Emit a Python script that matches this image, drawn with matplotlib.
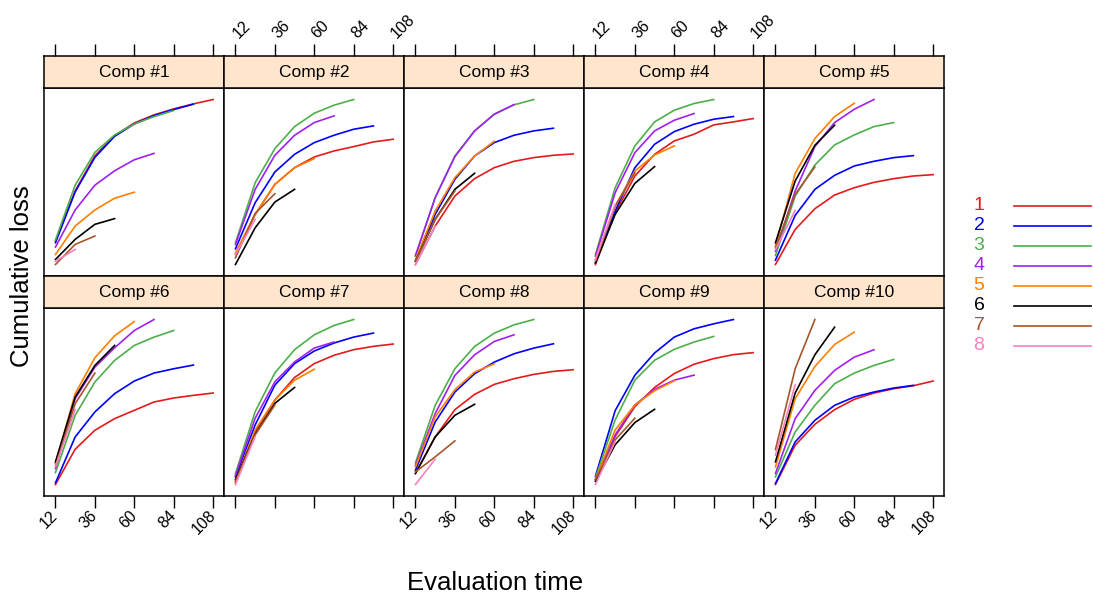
import numpy as np
import matplotlib
matplotlib.use('Agg')
import matplotlib.pyplot as plt
from matplotlib.lines import Line2D

plt.rcParams['font.family'] = ['Liberation Sans', 'DejaVu Sans']

# evaluation times (months)
eval_time = [12, 24, 36, 48, 60, 72, 84, 96, 108]
years = ['1', '2', '3', '4', '5', '6', '7', '8']
colors = ['#E41A1C', '#0000FF', '#4DAF4A', '#A020F0', '#FF7F00', '#000000', '#A65628', '#F781BF']
tick_vals = [12, 36, 60, 84, 108]

# cumulative loss per accident year (relative scale)
comp1 = [[135, 285, 390, 450, 488, 512, 530, 545, 558],
         [130, 282, 385, 448, 485, 510, 528, 544],
         [138, 302, 400, 452, 485, 507, 525],
         [117, 228, 302, 345, 378, 397],
         [95, 180, 228, 263, 281],
         [80, 140, 185, 202],
         [65, 125, 150],
         [75, 110]]
comp2 = [[95, 215, 305, 355, 387, 405, 418, 432, 440],
         [112, 250, 342, 395, 430, 452, 470, 480],
         [130, 310, 412, 478, 518, 542, 559],
         [125, 290, 392, 452, 490, 510],
         [100, 215, 305, 355, 382],
         [65, 175, 252, 290],
         [85, 218, 277],
         [95, 200]]
comp3 = [[65, 180, 270, 322, 355, 374, 385, 392, 396],
         [75, 215, 320, 390, 430, 452, 465, 473],
         [90, 265, 390, 465, 515, 543, 559],
         [92, 265, 388, 465, 515, 544],
         [80, 225, 325, 390, 434],
         [75, 200, 290, 338],
         [75, 200, 285],
         [65, 180]]
comp4 = [[65, 220, 330, 395, 435, 455, 483, 492, 502],
         [70, 225, 355, 425, 463, 485, 500, 508],
         [95, 295, 420, 492, 527, 547, 559],
         [90, 280, 400, 465, 497, 517],
         [80, 240, 345, 393, 420],
         [70, 215, 308, 358],
         [75, 240, 340],
         [80, 245]]
comp5 = [[65, 170, 232, 273, 295, 311, 322, 330, 334],
         [78, 212, 290, 332, 360, 374, 385, 391],
         [92, 270, 363, 423, 453, 478, 490],
         [105, 285, 418, 490, 530, 559],
         [120, 338, 442, 508, 548],
         [130, 315, 422, 482],
         [115, 275, 357],
         [110, 227]]
comp6 = [[57, 163, 220, 255, 280, 305, 317, 325, 332],
         [62, 200, 275, 330, 368, 392, 405, 416],
         [93, 265, 365, 430, 475, 500, 520],
         [105, 315, 410, 468, 520, 553],
         [120, 330, 438, 504, 547],
         [125, 320, 415, 475],
         [112, 300, 392],
         [110, 282]]
comp7 = [[60, 215, 310, 378, 420, 445, 462, 472, 479],
         [78, 235, 355, 420, 458, 482, 500, 512],
         [88, 275, 392, 462, 507, 535, 553],
         [82, 255, 365, 425, 467, 485],
         [65, 220, 310, 370, 403],
         [70, 207, 300, 348],
         [65, 205, 295],
         [55, 200]]
comp8 = [[90, 200, 282, 328, 358, 375, 388, 397, 402],
         [100, 245, 335, 390, 425, 450, 467, 480],
         [122, 295, 405, 472, 512, 537, 553],
         [115, 270, 385, 447, 487, 507],
         [110, 260, 342, 395, 420],
         [90, 200, 265, 298],
         [95, 140, 188],
         [57, 133]]
comp9 = [[65, 200, 290, 348, 390, 418, 435, 447, 453],
         [80, 278, 385, 452, 500, 525, 540, 553],
         [75, 250, 370, 430, 463, 485, 502],
         [70, 205, 295, 342, 370, 385],
         [70, 220, 295, 338, 368],
         [65, 175, 242, 282],
         [70, 190, 255],
         [55, 185]]
comp10 = [[57, 175, 238, 282, 313, 332, 345, 354, 368],
          [60, 185, 250, 295, 320, 335, 347, 355],
          [80, 215, 295, 360, 392, 415, 433],
          [90, 255, 340, 400, 440, 462],
          [110, 315, 412, 478, 515],
          [125, 332, 447, 530],
          [162, 405, 553],
          [145, 357]]

comps = [comp1, comp2, comp3, comp4, comp5, comp6, comp7, comp8, comp9, comp10]
titles = ['Comp #%d' % (i + 1) for i in range(10)]

W, H = 1093, 598
fig = plt.figure(figsize=(W / 100, H / 100), dpi=100)


def box(x0, y0, w, h):
    return [x0 / W, 1 - (y0 + h) / H, w / W, h / H]


left0, colw = 44.3, 180
strip_top0, strip_h, plot_h, row_h = 55.7, 32.6, 187.4, 220
xlim = (5.2, 114.8)

for i, (data, title) in enumerate(zip(comps, titles)):
    r, c = divmod(i, 5)
    x0 = left0 + c * colw
    st = strip_top0 + r * row_h
    ax = fig.add_axes(box(x0, st + strip_h, colw, plot_h))
    sax = fig.add_axes(box(x0, st, colw, strip_h))

    for k, vals in enumerate(data):
        ax.plot(eval_time[:len(vals)], vals, color=colors[k], lw=1.2)
    ax.set_xlim(xlim)
    ax.margins(y=0.068)
    ax.set_yticks([])

    sax.set_facecolor('#FFE5CC')
    sax.set_xlim(xlim)
    sax.set_yticks([])
    sax.text(0.5, 0.48, title, transform=sax.transAxes, ha='center', va='center', fontsize=12.5)

    for a in (ax, sax):
        for sp in a.spines.values():
            sp.set_linewidth(1.1)

    if r == 0:
        ax.set_xticks([])
        sax.set_xticks(tick_vals)
        sax.tick_params(axis='x', top=True, bottom=False, labeltop=(c % 2 == 1),
                        labelbottom=False, direction='out', length=8.5, width=1, pad=6,
                        labelsize=11.5)
        for t in sax.xaxis.get_major_ticks():
            t.label2.set_rotation(45)
            t.label2.set_rotation_mode('anchor')
            t.label2.set_ha('left')
            t.label2.set_va('center')
    else:
        sax.set_xticks([])
        ax.set_xticks(tick_vals)
        ax.tick_params(axis='x', bottom=True, labelbottom=(c % 2 == 0),
                       direction='out', length=8.5, width=1, pad=4, labelsize=11.5)
        for t in ax.xaxis.get_major_ticks():
            t.label1.set_rotation(45)
            t.label1.set_rotation_mode('anchor')
            t.label1.set_ha('right')
            t.label1.set_va('center')

# legend
for k, (lab, col) in enumerate(zip(years, colors)):
    yy = 1 - (205.7 + 20 * k) / H
    fig.text(979 / W, yy, lab, color=col, ha='center', va='center', fontsize=14)
    fig.add_artist(Line2D([1014 / W, 1091 / W], [yy, yy], color=col, lw=1.2,
                          transform=fig.transFigure))

fig.text(495 / W, 1 - 583 / H, 'Evaluation time', ha='center', va='center', fontsize=18.5)
fig.text(22 / W, 1 - 276 / H, 'Cumulative loss', ha='center', va='center', fontsize=18.5,
         rotation=90)

fig.savefig('out.png', dpi=100)
